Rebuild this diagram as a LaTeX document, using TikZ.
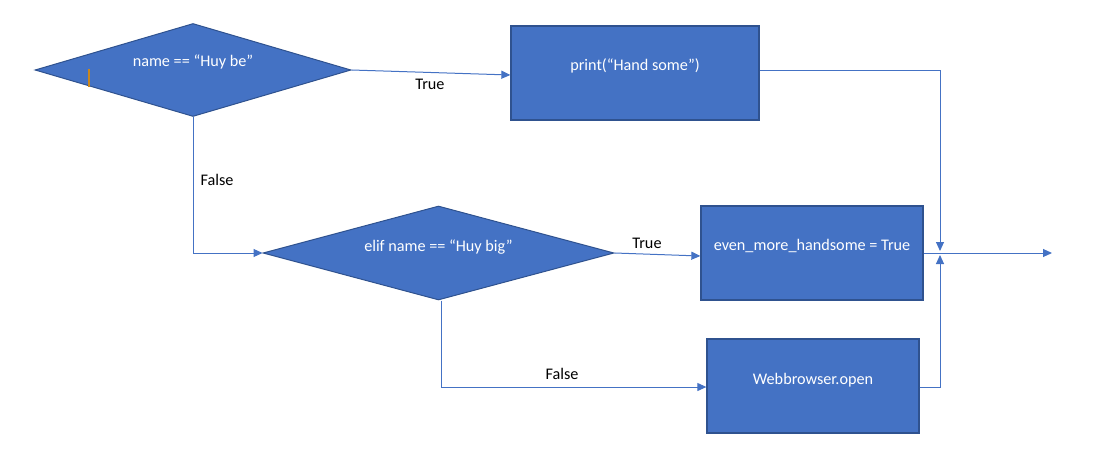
\documentclass[tikz,border=0pt]{standalone}
\usepackage{fontspec}
\setmainfont{Carlito}
\usetikzlibrary{shapes.geometric,arrows.meta}
\definecolor{fillblue}{HTML}{4472C4}
\definecolor{edgeblue}{HTML}{2F528F}
\definecolor{cursororange}{HTML}{C9871E}
% text raised above the node centre without changing the node's size
\newcommand{\liftby}[2]{\raisebox{#1}[0pt][0pt]{#2}}
\begin{document}
\begin{tikzpicture}[x=1pt,y=-1pt,
  font=\fontsize{16.2pt}{19pt}\selectfont,
  decision/.style={shape=diamond,draw=edgeblue,line width=1pt,fill=fillblue,
    text=white,inner sep=0pt},
  action/.style={shape=rectangle,draw=edgeblue,line width=1.3pt,fill=fillblue,
    text=white,inner sep=0pt},
  arr/.style={draw=fillblue,line width=1pt,-{Triangle[length=9pt,width=8pt]}},
  lbl/.style={text=black,inner sep=0pt}]
\useasboundingbox (0,0) rectangle (1107,468);

% decisions
\node[decision,aspect=3.4,minimum width=316pt,minimum height=93pt] (d1) at (193,70)
  {\liftby{3pt}{name == “Huy be”}};
\node[decision,aspect=3.73,minimum width=351pt,minimum height=94pt] (d2) at (438.5,253)
  {\liftby{1.5pt}{elif name == “Huy big”}};

% actions
\node[action,minimum width=248pt,minimum height=94pt] (b1) at (635,73)
  {\liftby{2.5pt}{print(“Hand some”)}};
\node[action,minimum width=222pt,minimum height=94pt] (b2) at (812,253)
  {\liftby{2.5pt}{even\_more\_handsome = True}};
\node[action,minimum width=212pt,minimum height=94pt] (b3) at (813,386)
  {\liftby{1.5pt}{Webbrowser.open}};

% join points
\coordinate (jtop) at (940,251);
\coordinate (jbot) at (940,255);
\coordinate (out) at (1052,253);

% connectors
\draw[arr] (d1.east) -- ([yshift=-2pt]b1.west);
\draw[arr] (d1.south) |- (d2.west);
\draw[arr] (d2.east) -- ([yshift=-3pt]b2.west);
\draw[arr] ([xshift=3pt]d2.south) |- ([yshift=-1pt]b3.west);
\draw[arr] ([yshift=2pt]b1.east) -| (jtop);
\draw[arr] ([yshift=-1pt]b3.east) -| (jbot);
\draw[arr] (b2.east) -- (out);

% labels
\node[lbl] (t1) at (430,84) {True};
\node[lbl] (f1) at (217,180) {False};
\node[lbl] (t2) at (647,243) {True};
\node[lbl] (f2) at (562,374) {False};

% text cursor
\coordinate (cur1) at (89,69);
\coordinate (cur2) at (89,87);
\draw[cursororange,line width=1.2pt] (cur1) -- (cur2);
\end{tikzpicture}
\end{document}
